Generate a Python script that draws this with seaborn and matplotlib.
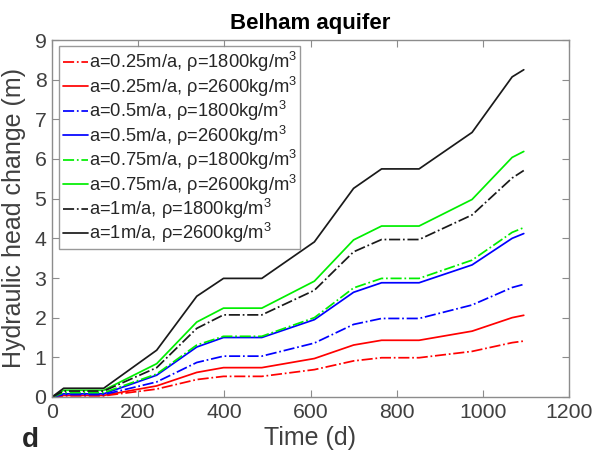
import matplotlib
matplotlib.use("Agg")
import matplotlib.pyplot as plt
import seaborn as sns
import pandas as pd

time_d = [0, 27, 120, 243, 336, 398, 487, 609, 700, 765, 852, 975, 1068, 1095]

a025_r1800 = [0, 0.03, 0.03, 0.20, 0.44, 0.52, 0.52, 0.69, 0.91, 0.99, 0.99, 1.15, 1.37, 1.41]
a025_r2600 = [0, 0.04, 0.04, 0.28, 0.62, 0.74, 0.74, 0.97, 1.31, 1.43, 1.43, 1.66, 2.00, 2.06]
a05_r1800 = [0, 0.06, 0.06, 0.38, 0.87, 1.03, 1.03, 1.36, 1.83, 1.98, 1.98, 2.32, 2.76, 2.84]
a05_r2600 = [0, 0.08, 0.08, 0.55, 1.26, 1.50, 1.50, 1.95, 2.64, 2.88, 2.88, 3.33, 4.00, 4.12]
a075_r1800 = [0, 0.11, 0.11, 0.58, 1.31, 1.53, 1.53, 2.00, 2.75, 2.99, 2.99, 3.45, 4.15, 4.27]
a075_r2600 = [0, 0.17, 0.17, 0.84, 1.89, 2.24, 2.24, 2.92, 3.96, 4.31, 4.31, 4.98, 6.04, 6.19]
a1_r1800 = [0, 0.15, 0.15, 0.74, 1.73, 2.07, 2.07, 2.69, 3.66, 3.97, 3.97, 4.59, 5.52, 5.71]
a1_r2600 = [0, 0.22, 0.22, 1.18, 2.54, 2.99, 2.99, 3.91, 5.26, 5.75, 5.75, 6.67, 8.07, 8.25]

series_labels = [
    r"a=0.25m/a, ρ=1800kg/m$^3$",
    r"a=0.25m/a, ρ=2600kg/m$^3$",
    r"a=0.5m/a, ρ=1800kg/m$^3$",
    r"a=0.5m/a, ρ=2600kg/m$^3$",
    r"a=0.75m/a, ρ=1800kg/m$^3$",
    r"a=0.75m/a, ρ=2600kg/m$^3$",
    r"a=1m/a, ρ=1800kg/m$^3$",
    r"a=1m/a, ρ=2600kg/m$^3$",
]
series_values = [a025_r1800, a025_r2600, a05_r1800, a05_r2600,
                 a075_r1800, a075_r2600, a1_r1800, a1_r2600]
colors = ["#ff0000", "#ff0000", "#0000ff", "#0000ff",
          "#00ee00", "#00ee00", "#1a1a1a", "#1a1a1a"]
styles = ["-.", "-", "-.", "-", "-.", "-", "-.", "-"]

x_ticks = [0, 200, 400, 600, 800, 1000, 1200]
y_ticks = [0, 1, 2, 3, 4, 5, 6, 7, 8, 9]

sns.set_theme(style="white")
plt.rcParams["font.family"] = ["Liberation Sans", "DejaVu Sans"]
plt.rcParams["mathtext.fontset"] = "custom"
plt.rcParams["mathtext.rm"] = "Liberation Sans"
plt.rcParams["mathtext.it"] = "Liberation Sans:italic"
plt.rcParams["mathtext.bf"] = "Liberation Sans:bold"

fig = plt.figure(figsize=(5.93, 4.53), dpi=100)
ax = fig.add_axes([52 / 593, 1 - 397 / 453, 517 / 593, 357 / 453])

for lab, vals, c, ls in zip(series_labels, series_values, colors, styles):
    df = pd.DataFrame({"t": time_d, "h": vals})
    sns.lineplot(data=df, x="t", y="h", ax=ax, color=c, linestyle=ls,
                 linewidth=1.25, label=lab)

ax.set_xlim(0, 1200)
ax.set_ylim(0, 9)
ax.set_xticks(x_ticks)
ax.set_yticks(y_ticks)

spine_c = "#8c8c8c"
for s in ax.spines.values():
    s.set_visible(True)
    s.set_color(spine_c)
    s.set_linewidth(1.0)
ax.tick_params(direction="in", length=5, width=0.8, color=spine_c,
               top=True, right=True, bottom=True, left=True,
               labelsize=15.3, labelcolor="#404040", pad=4)

ax.set_xlabel("Time (d)", fontsize=18, color="#404040", labelpad=3)
ax.set_ylabel("Hydraulic head change (m)", fontsize=18, color="#404040", labelpad=6)
ax.set_title("Belham aquifer", fontsize=16, fontweight="bold", color="black", pad=8)

leg = ax.legend(loc="upper left", bbox_to_anchor=(0.014, 0.982), fontsize=13.2,
                frameon=True, fancybox=False, handlelength=1.35,
                handletextpad=0.05, borderpad=0.2, labelspacing=0.02,
                borderaxespad=0.0)
leg.get_frame().set_edgecolor("#808080")
leg.get_frame().set_linewidth(1.0)
for t in leg.get_texts():
    t.set_color("#262626")

fig.text(30 / 593, 1 - 440 / 453, "d", fontsize=20, fontweight="bold",
         ha="center", va="center", color="#262626")

fig.savefig("out.png", dpi=100)
